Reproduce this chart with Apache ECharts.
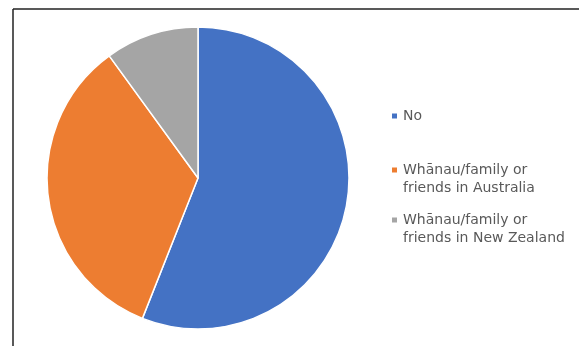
<!DOCTYPE html>
<html><head><meta charset="utf-8">
<script src="https://cdn.jsdelivr.net/npm/echarts@6/dist/echarts.min.js"></script>
<style>html,body{margin:0;padding:0;background:#fff}#c{width:579px;height:346px}</style>
</head><body><div id="c"></div>
<script>
const categories = ['No', 'Whānau/family or\nfriends in Australia', 'Whānau/family or\nfriends in New Zealand'];
const values = [56, 34, 10];
const colors = ['#4472C4', '#ED7D31', '#A5A5A5'];

const chart = echarts.init(document.getElementById('c'), null, {renderer: 'canvas'});
const legendTops = [107, 143, 193];
const legendBase = {
  orient: 'vertical', left: 390, padding: 0,
  icon: 'rect', itemWidth: 7, itemHeight: 7,
  selectedMode: false
};
const legends = categories.map((name, i) => Object.assign({}, legendBase, {
  top: legendTops[i],
  data: [name],
  formatter: n => (n.indexOf('\n') >= 0 ? '\n' + n : n),
  textStyle: {
    fontFamily: 'DejaVu Sans', fontSize: 14, color: '#595959', lineHeight: 18
  }
}));
chart.setOption({
  animation: false,
  color: colors,
  legend: legends,
  graphic: [
    {type: 'line', shape: {x1: 13, y1: 9, x2: 579, y2: 9}, style: {stroke: '#222', lineWidth: 1.5}},
    {type: 'line', shape: {x1: 13, y1: 9, x2: 13, y2: 346}, style: {stroke: '#222', lineWidth: 1.5}}
  ],
  series: [{
    type: 'pie',
    center: [198, 178],
    radius: [0, 151],
    startAngle: 90,
    clockwise: true,
    label: {show: false},
    labelLine: {show: false},
    emphasis: {disabled: true},
    itemStyle: {borderColor: '#fff', borderWidth: 1.5},
    data: categories.map((n, i) => ({name: n, value: values[i]}))
  }]
});
</script></body></html>
